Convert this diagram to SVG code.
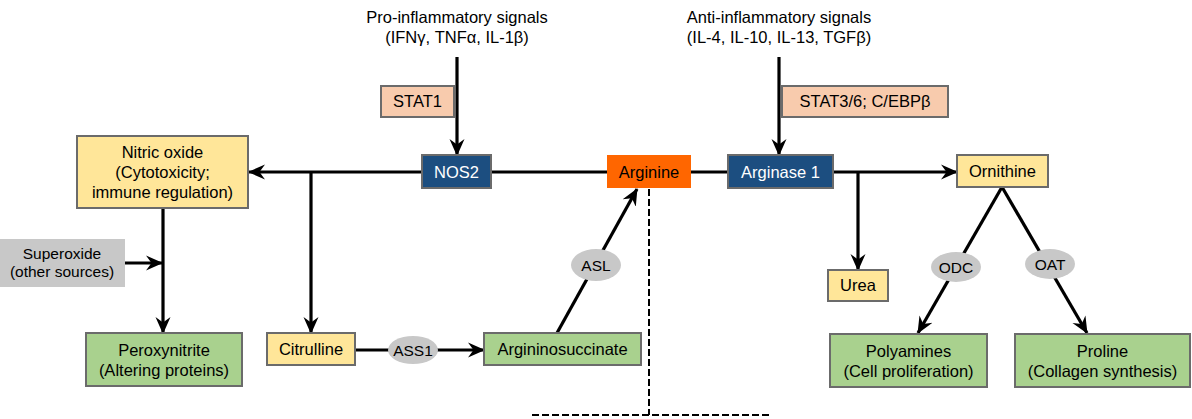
<svg xmlns="http://www.w3.org/2000/svg" width="1192" height="419" viewBox="0 0 1192 419">
<defs>
<marker id="ah" markerUnits="userSpaceOnUse" markerWidth="18" markerHeight="18" viewBox="0 0 18 18" refX="16" refY="9" orient="auto">
<path d="M0,1.5 L17,9 L0,16.5 L5.5,9 z" fill="#000"/>
</marker>
<style>
text{font-family:"Liberation Sans",Arial,sans-serif;font-size:16.5px;fill:#000;text-anchor:middle}
.w{fill:#fff}
.s15{font-size:15.5px}
.box{stroke:#6b6b6b;stroke-width:2}
.yel{fill:#FFE699}
.pea{fill:#F8CBAD}
.grn{fill:#A9D18E}
.blu{fill:#1C4E80}
.ell{fill:#C8C8C8}
.ln{stroke:#000;stroke-width:3.2;fill:none}
.arr{marker-end:url(#ah)}
.dash{stroke:#000;stroke-width:2;stroke-dasharray:7,3;fill:none}
</style>
</defs>
<rect width="1192" height="419" fill="#fff"/>
<g id="connectors">
<line class="ln arr" x1="457" y1="57" x2="457" y2="155"/>
<line class="ln arr" x1="779" y1="57" x2="779" y2="155"/>
<line class="ln arr" x1="422" y1="172" x2="249" y2="172"/>
<line class="ln" x1="491" y1="172" x2="607" y2="172"/>
<line class="ln" x1="691" y1="172" x2="728" y2="172"/>
<line class="ln arr" x1="833" y1="172" x2="957" y2="172"/>
<line class="ln arr" x1="311" y1="172" x2="311" y2="333"/>
<line class="ln arr" x1="858" y1="172" x2="858" y2="270"/>
<line class="ln arr" x1="163" y1="208" x2="163" y2="333"/>
<line class="ln arr" x1="125" y1="263" x2="162" y2="263"/>
<line class="ln arr" x1="355" y1="350" x2="484" y2="350"/>
<line class="ln arr" x1="557" y1="333" x2="637" y2="189"/>
<line class="ln arr" x1="1002" y1="187" x2="918" y2="333"/>
<line class="ln arr" x1="1002" y1="187" x2="1087" y2="333"/>
<line class="dash" x1="649" y1="189" x2="649" y2="415"/>
<line class="dash" x1="532" y1="415" x2="772" y2="415"/>
</g>
<g id="pro-signals">
<text x="457" y="23">Pro-inflammatory signals</text>
<text x="457" y="43">(IFNγ, TNFα, IL-1β)</text>
</g>
<g id="anti-signals">
<text x="779" y="23">Anti-inflammatory signals</text>
<text x="779" y="43">(IL-4, IL-10, IL-13, TGFβ)</text>
</g>
<g id="stat1">
<rect class="box pea" x="381" y="86" width="73" height="31"/>
<text x="417.5" y="107">STAT1</text>
</g>
<g id="stat36">
<rect class="box pea" x="782" y="86" width="166" height="31"/>
<text x="865" y="107">STAT3/6; C/EBPβ</text>
</g>
<g id="nitric-oxide">
<rect class="box yel" x="77" y="136" width="171" height="72"/>
<text x="162.5" y="158">Nitric oxide</text>
<text x="162.5" y="178">(Cytotoxicity;</text>
<text x="162.5" y="198">immune regulation)</text>
</g>
<g id="nos2">
<rect class="box blu" x="422" y="155" width="69" height="33"/>
<text class="w" x="456.5" y="177.5">NOS2</text>
</g>
<g id="arginine">
<rect x="607" y="155" width="84" height="33" fill="#FF6600"/>
<text x="649" y="177.5">Arginine</text>
</g>
<g id="arginase1">
<rect class="box blu" x="728" y="155" width="105" height="33"/>
<text class="w" x="780.5" y="177.5">Arginase 1</text>
</g>
<g id="ornithine">
<rect class="box yel" x="957" y="155" width="91" height="32"/>
<text x="1002.5" y="177">Ornithine</text>
</g>
<g id="superoxide">
<rect x="0" y="239" width="125" height="48" fill="#C8C8C8"/>
<text class="s15" x="62" y="259">Superoxide</text>
<text class="s15" x="62" y="277">(other sources)</text>
</g>
<g id="urea">
<rect class="box yel" x="828" y="270" width="60" height="31"/>
<text x="858" y="291">Urea</text>
</g>
<g id="peroxynitrite">
<rect class="box grn" x="86" y="333" width="156" height="53"/>
<text x="164" y="356">Peroxynitrite</text>
<text x="164" y="376">(Altering proteins)</text>
</g>
<g id="citrulline">
<rect class="box yel" x="267" y="333" width="88" height="32"/>
<text x="311" y="355">Citrulline</text>
</g>
<g id="argininosuccinate">
<rect class="box grn" x="484" y="333" width="157" height="32"/>
<text x="562.5" y="355">Argininosuccinate</text>
</g>
<g id="polyamines">
<rect class="box grn" x="830" y="334" width="157" height="53"/>
<text x="908.5" y="357">Polyamines</text>
<text x="908.5" y="377">(Cell proliferation)</text>
</g>
<g id="proline">
<rect class="box grn" x="1015" y="334" width="175" height="53"/>
<text x="1102.5" y="357">Proline</text>
<text x="1102.5" y="377">(Collagen synthesis)</text>
</g>
<g id="ass1">
<ellipse class="ell" cx="413" cy="350" rx="25" ry="14"/>
<text class="s15" x="413" y="355.5">ASS1</text>
</g>
<g id="asl">
<ellipse class="ell" cx="596" cy="265" rx="25" ry="16"/>
<text class="s15" x="596" y="270.5">ASL</text>
</g>
<g id="odc">
<ellipse class="ell" cx="956" cy="267" rx="25" ry="15"/>
<text class="s15" x="956" y="272.5">ODC</text>
</g>
<g id="oat">
<ellipse class="ell" cx="1050" cy="264" rx="25" ry="15"/>
<text class="s15" x="1050" y="269.5">OAT</text>
</g>
</svg>
